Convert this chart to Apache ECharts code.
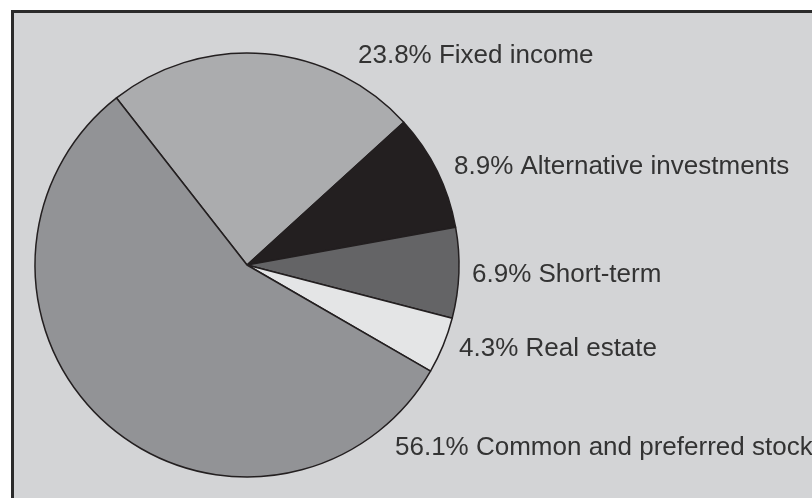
<!DOCTYPE html>
<html>
<head>
<meta charset="utf-8">
<script src="https://cdn.jsdelivr.net/npm/echarts@6/dist/echarts.min.js"></script>
<style>
  html, body { margin: 0; padding: 0; background: #ffffff; }
  #main { width: 812px; height: 498px; }
</style>
</head>
<body>
<div id="main"></div>
<script>
  // slice names, percents and fills (clockwise from the upper-left radius)
  const categories = ['Fixed income', 'Alternative investments', 'Short-term', 'Real estate', 'Common and preferred stock']
  const percents = [23.8, 8.9, 6.9, 4.3, 56.1]
  const fills = ['#abacae', '#231f20', '#646466', '#e4e5e6', '#929396']
  // where each label sits (left edge, vertical middle)
  const labelPos = [[358, 56], [454, 167], [472, 275], [459, 349], [395, 448]]

  const mChart = echarts.init(document.getElementById('main'))
  const option = {
    animation: false,
    backgroundColor: '#ffffff',
    graphic: [{
      type: 'rect',
      z: -10,
      shape: { x: 12.5, y: 11.5, width: 820, height: 510 },
      style: { fill: '#d3d4d6', stroke: '#2b2b2b', lineWidth: 3 }
    }],
    series: [{
      type: 'pie',
      center: [247, 265],
      radius: 212,
      startAngle: 128,
      clockwise: true,
      avoidLabelOverlap: false,
      itemStyle: {
        borderColor: '#231f20',
        borderWidth: 1.5
      },
      label: {
        show: true,
        position: 'outside',
        color: '#333333',
        fontFamily: 'Liberation Sans',
        fontSize: 26,
        formatter: p => p.value.toFixed(1) + '% ' + p.name
      },
      labelLine: { show: false },
      labelLayout: params => ({
        x: labelPos[params.dataIndex][0],
        y: labelPos[params.dataIndex][1],
        align: 'left',
        verticalAlign: 'middle'
      }),
      emphasis: { disabled: true },
      data: categories.map((name, i) => ({
        name: name,
        value: percents[i],
        itemStyle: { color: fills[i] }
      }))
    }]
  }
  mChart.setOption(option)
  window.addEventListener('resize', function() {
    mChart.resize()
  })
</script>
</body>
</html>
